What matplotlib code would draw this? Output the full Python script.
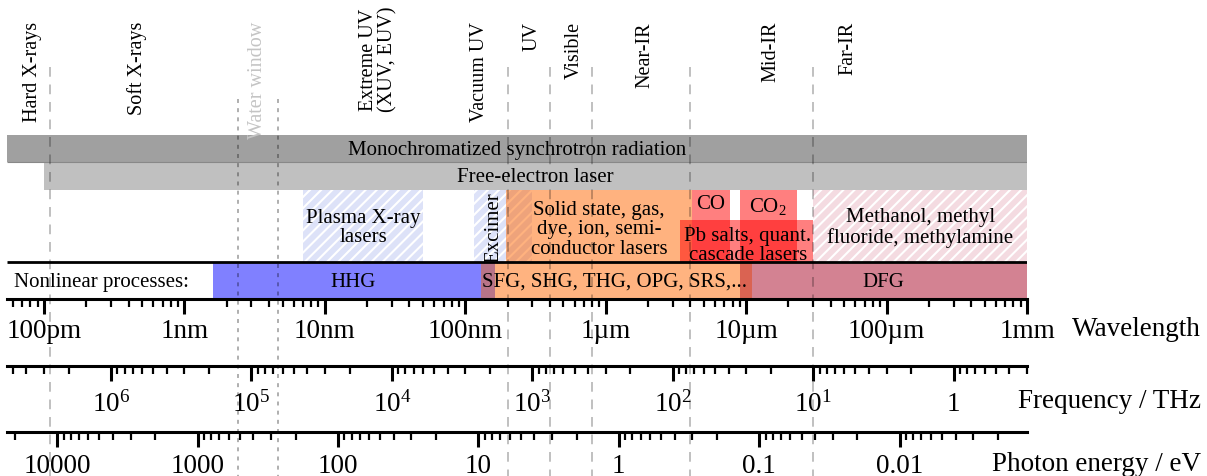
import matplotlib.pyplot as plt
import matplotlib.ticker as mticker
import numpy as np

plt.rcParams["font.family"] = ["Liberation Serif", "DejaVu Serif"]
plt.rcParams["mathtext.fontset"] = "custom"
plt.rcParams["mathtext.rm"] = "Liberation Serif"
plt.rcParams["mathtext.it"] = "Liberation Serif:italic"
plt.rcParams["hatch.linewidth"] = 1.5

# all wavelengths in nm
WL_MIN, WL_MAX = 0.0545, 1.0e6
HC_EV_NM = 1239.84
C_THZ_NM = 299792.458

# spectral regions named along the top
region_names = ["Hard X-rays", "Soft X-rays", "Water window",
                "Extreme UV\n(XUV, EUV)", "Vacuum UV", "UV", "Visible",
                "Near-IR", "Mid-IR", "Far-IR"]
region_label_wl = [0.083, 0.46, 3.3, 24, 127, 300, 600, 1900, 15000, 53000]
boundary_wl = [0.11, 200, 400, 800, 4000, 30000]
water_window_wl = [2.4, 4.6]

# broadly tunable sources
broad_names = ["Monochromatized synchrotron radiation", "Free-electron laser"]
broad_start = [WL_MIN, 0.1]
broad_end = [1.0e6, 1.0e6]
broad_colors = ["#a0a0a0", "#c0c0c0"]

# lasers
laser_names = ["Plasma X-ray\nlasers", "Excimer",
               "Solid state, gas,\ndye, ion, semi-\nconductor lasers",
               "CO", "CO$_2$", "Pb salts, quant.\ncascade lasers",
               "Methanol, methyl\nfluoride, methylamine"]
laser_start = [7, 115, 195, 4100, 9000, 3400, 30000]
laser_end = [50, 300, 4100, 7700, 23000, 31000, 1.0e6]

# nonlinear conversion
nl_names = ["HHG", "", "SFG, SHG, THG, OPG, SRS,...", "", "DFG"]
nl_start = [1.6, 130, 163, 9000, 11000]
nl_end = [130, 163, 9000, 11000, 1.0e6]
nl_colors = ["#8080ff", "#b87488", "#ffb380", "#da6352", "#d38292"]
nl_label_wl = [16, None, 1150, None, 95000]

wl_ticks = [0.1, 1, 10, 100, 1e3, 1e4, 1e5, 1e6]
wl_tick_labels = ["100pm", "1nm", "10nm", "100nm", "1µm", "10µm", "100µm", "1mm"]
freq_ticks = [1e6, 1e5, 1e4, 1e3, 1e2, 1e1, 1]
freq_tick_labels = ["$10^{6}$", "$10^{5}$", "$10^{4}$", "$10^{3}$",
                    "$10^{2}$", "$10^{1}$", "1"]
energy_ticks = [1e4, 1e3, 100, 10, 1, 0.1, 0.01]
energy_tick_labels = ["10000", "1000", "100", "10", "1", "0.1", "0.01"]

# layout, in pixels of the 1207 x 477 canvas
W, H = 1207, 477
X0, X1 = 7, 1027
Y_SYNC, Y_FEL, Y_LASER, Y_NL, Y_WL = 136, 163, 191, 263, 300
Y_FREQ, Y_EN = 367, 433
LBL = 19.5
TXT = 15

hatched = dict(fc="#dde2f8", ec="white", hatch="///", lw=0)
laser_style = {
    "Plasma X-ray\nlasers": hatched,
    "Excimer": hatched,
    "Methanol, methyl\nfluoride, methylamine": dict(hatched, fc="#f4dbe1"),
}
laser_top = {"Pb salts, quant.\ncascade lasers": 221}
laser_text_y = {"CO": 205, "CO$_2$": 207, "Pb salts, quant.\ncascade lasers": 246,
                "Solid state, gas,\ndye, ion, semi-\nconductor lasers": 230}
laser_text_wl = {"Excimer": 160}


def logmid(a, b):
    return np.sqrt(a * b)


fig = plt.figure(figsize=(W / 100, H / 100), dpi=100)
ax = fig.add_axes([X0 / W, 0, (X1 - X0) / W, 1])
ax.set_facecolor("none")
ax.set_xscale("log")
ax.set_xlim(WL_MIN, WL_MAX)
ax.set_ylim(H, 0)
for s in ["top", "left", "right"]:
    ax.spines[s].set_visible(False)
ax.spines["bottom"].set_position(("data", Y_WL))
ax.spines["bottom"].set_linewidth(2.2)
ax.set_yticks([])

# broad sources
for name, a, b, c, y0, y1 in zip(broad_names, broad_start, broad_end, broad_colors,
                                 [Y_SYNC, Y_FEL], [Y_FEL, Y_LASER]):
    ax.barh((y0 + y1) / 2, b - a, left=a, height=y1 - y0, color=c, lw=0)
    ax.text(logmid(a, b), (y0 + y1) / 2 + 1, name, ha="center", va="center", fontsize=TXT)
ax.hlines(Y_FEL, broad_start[0], broad_end[0], color="#888888", lw=0.8)

# lasers
for name, a, b in zip(laser_names, laser_start, laser_end):
    top = laser_top.get(name, Y_LASER)
    if name in laser_style:
        ax.barh((top + Y_NL) / 2, b - a, left=a, height=Y_NL - top, **laser_style[name])
    else:
        c = "#ff6600" if name.startswith("Solid") else "#ff0000"
        ax.barh((top + Y_NL) / 2, b - a, left=a, height=Y_NL - top, color=c, alpha=0.5, lw=0)
for name, a, b in zip(laser_names, laser_start, laser_end):
    x = laser_text_wl.get(name, logmid(a, b))
    y = laser_text_y.get(name, (Y_LASER + Y_NL) / 2 + 1)
    rot = 90 if name == "Excimer" else 0
    ax.text(x, y, name, ha="center", va="center", fontsize=TXT, rotation=rot,
            linespacing=1.05, zorder=5)

# nonlinear processes
for name, a, b, c, xl in zip(nl_names, nl_start, nl_end, nl_colors, nl_label_wl):
    ax.barh((Y_NL + Y_WL) / 2, b - a, left=a, height=Y_WL - Y_NL, color=c, lw=0)
    if name:
        ax.text(xl, (Y_NL + Y_WL) / 2 + 1, name, ha="center", va="center", fontsize=TXT)
ax.text(0.061, (Y_NL + Y_WL) / 2 + 1, "Nonlinear processes:", ha="left", va="center",
        fontsize=TXT)
ax.hlines(Y_NL, WL_MIN, WL_MAX, color="black", lw=2.0, zorder=6)

# region labels and boundaries
for name, wl in zip(region_names, region_label_wl):
    col = "#c4c4c4" if name == "Water window" else "black"
    top = 7 if "\n" in name else 22
    ax.text(wl, top, name, rotation=90, ha="center", va="top", fontsize=14.5,
            color=col, linespacing=0.95, multialignment="center")
ax.vlines(boundary_wl, 68, H, colors="black", alpha=0.25, lw=1.4,
          linestyles=(0, (5, 4)), zorder=7, clip_on=False)
ax.vlines(water_window_wl, 100, H, colors="black", alpha=0.4, lw=1.1,
          linestyles=(0, (2.6, 3.4)), zorder=7, clip_on=False)

# wavelength scale
ax.set_xticks(wl_ticks, wl_tick_labels)
ax.xaxis.set_minor_locator(mticker.LogLocator(base=10, subs=np.arange(2, 10), numticks=40))
ax.xaxis.set_minor_formatter(mticker.NullFormatter())
ax.tick_params(axis="x", which="major", length=11, width=2.2, labelsize=LBL, pad=3)
ax.tick_params(axis="x", which="minor", length=6, width=1.6)


def scale_axis(y_px, lims, ticks, labels, pad):
    sa = fig.add_axes([X0 / W, 1 - y_px / H, (X1 - X0) / W, 1e-4])
    sa.set_facecolor("none")
    for s in ["top", "left", "right"]:
        sa.spines[s].set_visible(False)
    sa.spines["bottom"].set_linewidth(2.2)
    sa.set_yticks([])
    sa.set_xscale("log")
    sa.set_xlim(*lims)
    sa.set_xticks(ticks, labels)
    sa.xaxis.set_minor_locator(mticker.LogLocator(base=10, subs=np.arange(2, 10), numticks=40))
    sa.xaxis.set_minor_formatter(mticker.NullFormatter())
    sa.tick_params(axis="x", which="major", length=11, width=2.2, labelsize=LBL, pad=pad)
    sa.tick_params(axis="x", which="minor", length=6, width=1.6)
    return sa


fa = scale_axis(Y_FREQ, (C_THZ_NM / WL_MIN, C_THZ_NM / WL_MAX), freq_ticks, freq_tick_labels, 21)
for lbl in fa.get_xticklabels():
    lbl.set_verticalalignment("baseline")
ea = scale_axis(Y_EN, (HC_EV_NM / WL_MIN, HC_EV_NM / WL_MAX), energy_ticks, energy_tick_labels, 4)

fig.text(1201 / W, 1 - 330 / H, "Wavelength", ha="right", va="center", fontsize=LBL)
fig.text(1201 / W, 1 - 402 / H, "Frequency / THz", ha="right", va="center", fontsize=LBL)
fig.text(1201 / W, 1 - 465 / H, "Photon energy / eV", ha="right", va="center", fontsize=LBL)

fig.savefig("out.png", dpi=100)
